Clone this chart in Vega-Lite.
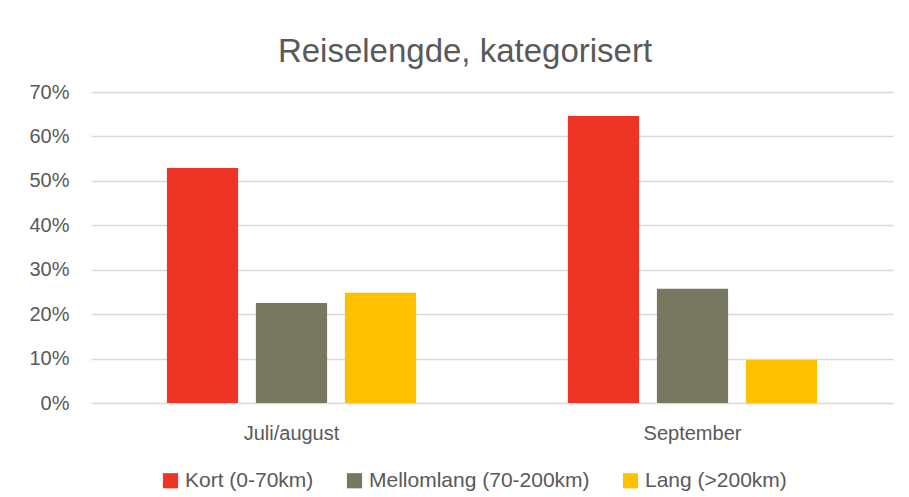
{
  "$schema": "https://vega.github.io/schema/vega-lite/v6.json",
  "width": 802,
  "height": 311,
  "autosize": {"type": "none"},
  "padding": {"left": 91, "top": 92, "right": 16, "bottom": 94},
  "background": "white",
  "title": {
    "text": "Reiselengde, kategorisert",
    "font": "Liberation Sans",
    "fontSize": 33,
    "fontWeight": "normal",
    "color": "#595959",
    "anchor": "middle",
    "dx": -27,
    "offset": 13
  },
  "data": {
    "values": [
      {"periode": "Juli/august", "kategori": "Kort (0-70km)", "andel": 0.529},
      {"periode": "Juli/august", "kategori": "Mellomlang (70-200km)", "andel": 0.225},
      {"periode": "Juli/august", "kategori": "Lang (>200km)", "andel": 0.248},
      {"periode": "September", "kategori": "Kort (0-70km)", "andel": 0.646},
      {"periode": "September", "kategori": "Mellomlang (70-200km)", "andel": 0.257},
      {"periode": "September", "kategori": "Lang (>200km)", "andel": 0.097}
    ]
  },
  "mark": {"type": "bar"},
  "encoding": {
    "x": {
      "field": "periode",
      "type": "nominal",
      "sort": ["Juli/august", "September"],
      "scale": {"paddingInner": 0, "paddingOuter": 0},
      "axis": {
        "title": null,
        "labelAngle": 0,
        "labelFont": "Liberation Sans",
        "labelFontSize": 20,
        "labelColor": "#595959",
        "labelPadding": 20,
        "ticks": false,
        "domain": false
      }
    },
    "xOffset": {
      "field": "kategori",
      "type": "nominal",
      "sort": ["Kort (0-70km)", "Mellomlang (70-200km)", "Lang (>200km)"],
      "scale": {"paddingInner": 0.2, "paddingOuter": 0.853}
    },
    "y": {
      "field": "andel",
      "type": "quantitative",
      "scale": {"domain": [0, 0.7], "nice": false},
      "axis": {
        "title": null,
        "format": ".0%",
        "values": [0, 0.1, 0.2, 0.3, 0.4, 0.5, 0.6, 0.7],
        "labelFont": "Liberation Sans",
        "labelFontSize": 20,
        "labelColor": "#595959",
        "labelPadding": 22,
        "ticks": false,
        "domain": false,
        "grid": true,
        "gridColor": "#d9d9d9",
        "gridWidth": 1.3
      }
    },
    "color": {
      "field": "kategori",
      "type": "nominal",
      "sort": ["Kort (0-70km)", "Mellomlang (70-200km)", "Lang (>200km)"],
      "scale": {
        "domain": ["Kort (0-70km)", "Mellomlang (70-200km)", "Lang (>200km)"],
        "range": ["#EE3424", "#77775F", "#FFC000"]
      },
      "legend": {
        "title": null,
        "orient": "none",
        "legendX": 69,
        "legendY": 378,
        "direction": "horizontal",
        "symbolType": "square",
        "symbolSize": 230,
        "symbolStrokeWidth": 0,
        "labelFont": "Liberation Sans",
        "labelFontSize": 21,
        "labelColor": "#595959",
        "labelLimit": 400,
        "columnPadding": 30,
        "labelOffset": 4
      }
    }
  },
  "config": {
    "view": {"stroke": null}
  }
}
